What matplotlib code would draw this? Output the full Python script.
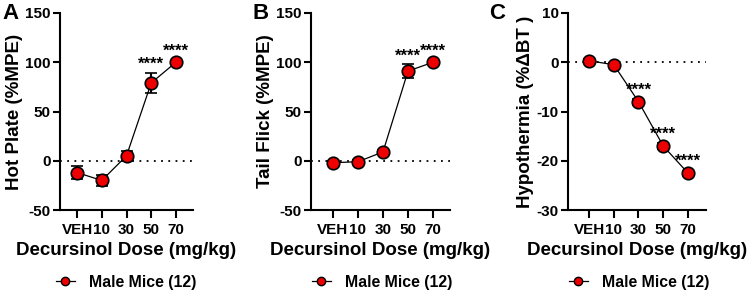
import matplotlib.pyplot as plt
from matplotlib.lines import Line2D

plt.rcParams["font.family"] = ["Liberation Sans", "DejaVu Sans"]
plt.rcParams["font.weight"] = "bold"
plt.rcParams["axes.unicode_minus"] = False

DOSES = ["VEH", "10", "30", "50", "70"]

HOT_PLATE = [-12, -20, 5, 79, 100]
HOT_PLATE_ERR = [7, 6, 5, 10, 1]
HOT_PLATE_STARS = [None, None, None, 98, 111]

TAIL_FLICK = [-2, -1, 9, 91, 100]
TAIL_FLICK_ERR = [2, 2, 2, 7, 1]
TAIL_FLICK_STARS = [None, None, None, 106, 111]

HYPOTHERMIA = [0.3, -0.5, -8, -17, -22.5]
HYPOTHERMIA_ERR = [0.4, 0.4, 0.6, 0.6, 0.5]
HYPOTHERMIA_STARS = [None, None, -5.6, -14.6, -20.2]

panels = [
    ("A", 2, "Hot Plate (%MPE)", HOT_PLATE, HOT_PLATE_ERR, HOT_PLATE_STARS,
     (-50, 150), [-50, 0, 50, 100, 150], (60, 193), (-0.69, 4.69), 126),
    ("B", 252, "Tail Flick (%MPE)", TAIL_FLICK, TAIL_FLICK_ERR, TAIL_FLICK_STARS,
     (-50, 150), [-50, 0, 50, 100, 150], (311, 450), (-0.88, 4.68), 382),
    ("C", 489, "Hypothermia (%\u0394BT )", HYPOTHERMIA, HYPOTHERMIA_ERR, HYPOTHERMIA_STARS,
     (-30, 10), [-30, -20, -10, 0, 10], (568, 706), (-0.85, 4.73), 639),
]

W, H = 754, 292
fig = plt.figure(figsize=(W / 100, H / 100), dpi=100)

for letter, lx, ylabel, vals, errs, stars, ylim, yticks, (x0, x1), xlim, leg_x in panels:
    ax = fig.add_axes([x0 / W, 1 - 210 / H, (x1 - x0) / W, 197 / H])
    x = list(range(len(DOSES)))
    ax.axhline(0, color="black", linestyle=(0, (1, 3)), linewidth=1.3, zorder=1)
    ax.errorbar(x, vals, yerr=errs, color="black", linewidth=0.9, capsize=4,
                capthick=1.5, elinewidth=1.5, marker="o", markersize=9,
                markerfacecolor="#ee0000", markeredgecolor="black",
                markeredgewidth=1.2, zorder=3)
    for xi, s in zip(x, stars):
        if s is not None:
            ax.text(xi, s, "****", ha="center", va="center", fontsize=12,
                    fontweight="bold", zorder=4)
    ax.set_xlim(*xlim)
    ax.set_ylim(*ylim)
    ax.set_yticks(yticks)
    ax.set_xticks(x)
    ax.set_xticklabels(DOSES)
    for side in ("top", "right"):
        ax.spines[side].set_visible(False)
    for side in ("left", "bottom"):
        ax.spines[side].set_linewidth(1.5)
    ax.tick_params(axis="y", length=5, width=1.5, labelsize=11, pad=1.5)
    ax.tick_params(axis="x", length=6, width=1.5, labelsize=11, pad=3)
    for lab in ax.get_xticklabels() + ax.get_yticklabels():
        lab.set_fontweight("bold")
    ax.set_ylabel(ylabel, fontsize=13.5, fontweight="bold", labelpad=2)
    ax.set_xlabel("Decursinol Dose (mg/kg)", fontsize=13.5, fontweight="bold", labelpad=4)
    fig.text(lx / W, 0.99, letter, fontsize=16, fontweight="bold", ha="left", va="top")
    handle = Line2D([], [], color="black", linewidth=0.9, marker="o", markersize=6,
                    markerfacecolor="#ee0000", markeredgecolor="black", markeredgewidth=1.0)
    ax.legend([handle], ["Male Mice (12)"], loc="center",
              bbox_to_anchor=(leg_x / W, 1 - 282 / H), bbox_transform=fig.transFigure,
              frameon=False, fontsize=11.4, handlelength=1.2, handletextpad=0.9)

fig.savefig("out.png", dpi=100)
